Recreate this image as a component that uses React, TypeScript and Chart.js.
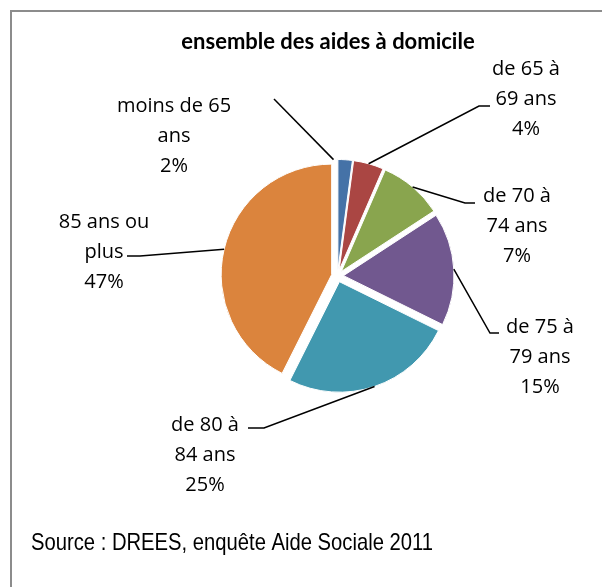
import React, { useEffect, useRef } from "react";
import { Chart, registerables } from "chart.js";

Chart.register(...registerables);

// ---- data ----
const categories = [
  "moins de 65 ans",
  "de 65 à 69 ans",
  "de 70 à 74 ans",
  "de 75 à 79 ans",
  "de 80 à 84 ans",
  "85 ans ou plus",
];
// slice sizes as drawn in the picture (share of the circle, %)
const shares = [2.1, 4.4, 9.3, 16.5, 25.1, 42.6];
// printed data labels
const percentLabels = ["2%", "4%", "7%", "15%", "25%", "47%"];
const colors = ["#4572A7", "#AA4643", "#89A54E", "#71588F", "#4198AF", "#DB843D"];
const chartTitle = "ensemble des aides à domicile";
const sourceNote = "Source : DREES, enquête Aide Sociale 2011";

// ---- layout / style ----
const EXPLODE = 6;
const LABEL_FONT = '20px "Open Sans", sans-serif';
const LINE_H = 30;
const labelLayout = [
  { x: 174, y: 106, wrap: 120, attach: -0.3, path: [[274, 99]] },
  { x: 526, y: 69, wrap: 85, attach: 0.5, path: [[479, 106], [490, 106]] },
  { x: 517, y: 196, wrap: 85, attach: 0.5, path: [[465, 203], [475, 203]] },
  { x: 540, y: 327, wrap: 85, attach: 0.5, path: [[490, 333], [499, 333]] },
  { x: 205, y: 425, wrap: 85, attach: 0.5, path: [[264, 428], [248, 428]] },
  { x: 104, y: 222, wrap: 120, attach: 0.5, path: [[140, 256], [127, 256]] },
];

function wrapText(ctx: CanvasRenderingContext2D, text: string, maxW: number): string[] {
  const words = text.split(" ");
  const lines: string[] = [];
  let cur = "";
  for (const w of words) {
    const test = cur ? cur + " " + w : w;
    if (cur && ctx.measureText(test).width > maxW) {
      lines.push(cur);
      cur = w;
    } else {
      cur = test;
    }
  }
  if (cur) lines.push(cur);
  return lines;
}

const excelPie = {
  id: "excelPie",
  beforeDraw(chart: any) {
    const ctx = chart.ctx as CanvasRenderingContext2D;
    ctx.save();
    ctx.fillStyle = "#ffffff";
    ctx.fillRect(0, 0, chart.width, chart.height);
    ctx.strokeStyle = "#8c8c8c";
    ctx.lineWidth = 2;
    ctx.strokeRect(11, 11, chart.width + 20, chart.height + 20);
    ctx.restore();
  },
  beforeDatasetDraw(chart: any, args: any) {
    const ctx = chart.ctx as CanvasRenderingContext2D;
    const meta = chart.getDatasetMeta(args.index);
    meta.data.forEach((arc: any) => {
      const mid = (arc.startAngle + arc.endAngle) / 2;
      ctx.save();
      ctx.translate(Math.cos(mid) * EXPLODE, Math.sin(mid) * EXPLODE);
      arc.draw(ctx);
      ctx.restore();
    });
    return false;
  },
  afterDraw(chart: any) {
    const ctx = chart.ctx as CanvasRenderingContext2D;
    const meta = chart.getDatasetMeta(0);
    ctx.save();
    // title
    ctx.fillStyle = "#000";
    ctx.textAlign = "center";
    ctx.textBaseline = "middle";
    ctx.font = 'bold 22px "Lato", sans-serif';
    ctx.fillText(chartTitle, 328, 42);

    // leader lines + labels
    meta.data.forEach((arc: any, i: number) => {
      const lay = labelLayout[i];
      const mid = (arc.startAngle + arc.endAngle) / 2;
      const cx = arc.x + Math.cos(mid) * EXPLODE;
      const cy = arc.y + Math.sin(mid) * EXPLODE;
      const a = arc.startAngle + lay.attach * (arc.endAngle - arc.startAngle);
      const r = arc.outerRadius;
      ctx.beginPath();
      ctx.moveTo(cx + Math.cos(a) * r, cy + Math.sin(a) * r);
      lay.path.forEach((p) => ctx.lineTo(p[0], p[1]));
      ctx.strokeStyle = "#000";
      ctx.lineWidth = 1.5;
      ctx.stroke();

      ctx.font = LABEL_FONT;
      const lines = wrapText(ctx, categories[i], lay.wrap);
      lines.push(percentLabels[i]);
      lines.forEach((ln, k) => {
        ctx.fillText(ln, lay.x, lay.y + k * LINE_H);
      });
    });

    // source note, narrow face (compressed horizontally to the reference width)
    ctx.textAlign = "left";
    ctx.font = '24px "Liberation Sans Narrow", "Liberation Sans", sans-serif';
    const w = ctx.measureText(sourceNote).width;
    const targetW = 402;
    ctx.save();
    ctx.translate(31, 543);
    ctx.scale(Math.min(1, targetW / w), 1);
    ctx.fillText(sourceNote, 0, 0);
    ctx.restore();
    ctx.restore();
  },
};

export default function App() {
  const ref = useRef<HTMLCanvasElement | null>(null);
  useEffect(() => {
    if (!ref.current) return;
    const chart = new Chart(ref.current, {
      type: "pie",
      data: {
        labels: categories,
        datasets: [
          {
            data: shares,
            backgroundColor: colors,
            borderColor: "#ffffff",
            borderWidth: 1,
            radius: 110.5,
          } as any,
        ],
      },
      options: {
        responsive: false,
        animation: false,
        devicePixelRatio: 1,
        events: [],
        layout: { padding: { left: 100, right: 27, top: 60, bottom: 95 } },
        plugins: {
          legend: { display: false },
          tooltip: { enabled: false },
          title: { display: false },
        },
      },
      plugins: [excelPie],
    });
    return () => chart.destroy();
  }, []);
  return (
    <div style={{ position: "absolute", left: 0, top: 0, width: 602, height: 587, background: "#fff" }}>
      <canvas ref={ref} width={602} height={587} style={{ display: "block" }} />
    </div>
  );
}
